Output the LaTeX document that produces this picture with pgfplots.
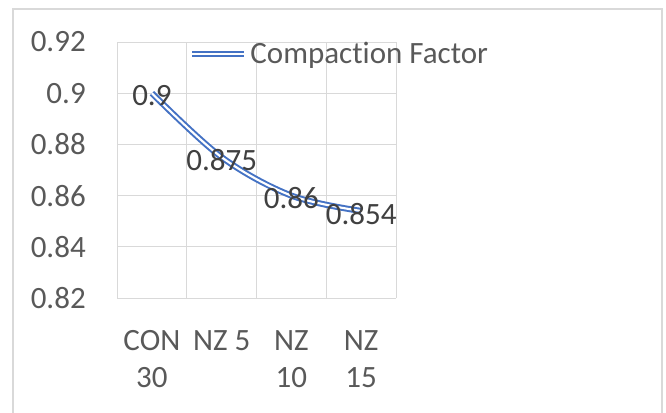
\documentclass[border=0pt]{standalone}
\usepackage{pgfplots}
\pgfplotsset{compat=1.18}
\usepackage{fontspec}
\setmainfont{Carlito}[Ligatures={NoCommon,NoContextual}]
\definecolor{exblue}{HTML}{4472C4}
\definecolor{gridc}{HTML}{D9D9D9}
\definecolor{ticktext}{HTML}{595959}
\definecolor{labtext}{HTML}{404040}
\newcommand{\cf}{\fontsize{23.25}{28}\selectfont}
\begin{document}
\begin{tikzpicture}
\useasboundingbox (0,0) rectangle (499.5pt,309pt);
\draw[gridc, line width=1.1pt] (9.75pt,-2pt) -- (9.75pt,302.25pt) -- (496.5pt,302.25pt) -- (496.5pt,-2pt);
\begin{axis}[
  at={(87.75pt,85.5pt)}, anchor=south west,
  scale only axis, width=209.25pt, height=192pt,
  xmin=-0.5, xmax=3.5, ymin=0.82, ymax=0.92,
  xtick={0,1,2,3},
  xticklabels={{CON\\30},{NZ 5},{NZ\\10},{NZ\\15}},
  minor xtick={-0.5,0.5,1.5,2.5,3.5},
  ytick={0.82,0.84,0.86,0.88,0.9,0.92},
  xminorgrids, ymajorgrids,
  grid style={gridc, line width=0.75pt},
  minor grid style={gridc, line width=0.75pt},
  major tick length=0pt, minor tick length=0pt,
  axis line style={draw=none},
  tick label style={font=\cf, text=ticktext},
  /pgf/number format/assume math mode=true,
  yticklabel style={/pgf/number format/fixed, /pgf/number format/precision=2, anchor=east, inner sep=0pt, xshift=-23.25pt},
  xticklabel style={align=center, anchor=north, inner sep=0pt, yshift=-24pt},
  legend style={at={(0.258,0.954)}, anchor=west, draw=none, fill=none, inner sep=0pt, outer sep=0pt,
    nodes={inner sep=0pt, text=ticktext, font=\cf},
    /tikz/every odd column/.style={column sep=2.5pt}},
  legend image code/.code={\draw[exblue, line width=1.5pt, double=white, double distance=1.6pt] (0pt,0pt) -- (39pt,0pt);},
  clip=false,
]
\addplot[exblue, line width=1.5pt, double=white, double distance=1.6pt, smooth, tension=0.55,
  nodes near coords, point meta=explicit symbolic,
  nodes near coords style={anchor=center, font=\cf, text=labtext, inner sep=0pt, yshift=-2pt}]
  coordinates {(0,0.9) [0.9] (1,0.875) [0.875] (2,0.86) [0.86] (3,0.854) [0.854]};
\addlegendentry{Compaction Factor}
\end{axis}
\end{tikzpicture}
\end{document}
